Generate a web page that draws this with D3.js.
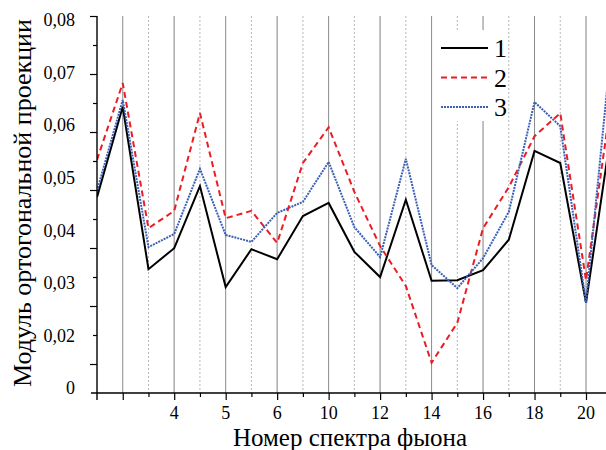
<!DOCTYPE html>
<html>
<head>
<meta charset="utf-8">
<script src="https://cdn.jsdelivr.net/npm/d3@7"></script>
<style>
  body { margin: 0; background: #fff; }
  svg { display: block; }
  svg text { font-family: 'Liberation Serif', 'Times New Roman', serif; }
</style>
</head>
<body>
<div class="chart"></div>
<script>
// spectrum index 0..20 (index 20 lies just past the right edge, clipped)
const series1 = [0.0463, 0.0635, 0.0326, 0.0366, 0.0484, 0.0292, 0.0364, 0.0345, 0.0427, 0.0452,
                 0.0359, 0.0311, 0.0458, 0.0304, 0.0305, 0.0324, 0.0382, 0.0551, 0.0528, 0.0262, 0.0595];
const series2 = [0.0534, 0.0680, 0.0404, 0.0437, 0.0623, 0.0423, 0.0437, 0.0376, 0.0528, 0.0596,
                 0.0473, 0.0370, 0.0294, 0.0148, 0.0224, 0.0404, 0.0482, 0.0579, 0.0623, 0.0305, 0.0655];
const series3 = [0.0475, 0.0648, 0.0368, 0.0393, 0.0517, 0.0391, 0.0378, 0.0433, 0.0454, 0.0530,
                 0.0406, 0.0349, 0.0536, 0.0334, 0.0290, 0.0347, 0.0435, 0.0644, 0.0598, 0.0262, 0.0758];
const seriesNames = ['1', '2', '3'];

const xLabelIdx = [3, 5, 7, 9, 11, 13, 15, 17, 19];
const xLabels = ['4', '5', '6', '10', '12', '14', '16', '18', '20'];
const yLabels = ['0,08', '0,07', '0,06', '0,05', '0,04', '0,03', '0,02', '0'];
const yTickCount = 14;

const W = 606, H = 450;
const plotLeft = 97, plotRight = 606, plotTop = 16, plotBottom = 393;
const serif = 'Liberation Serif';

const svg = d3.select('.chart').append('svg').attr('width', W).attr('height', H)
  .attr('font-family', serif);

const x = d3.scaleLinear().domain([0, 19]).range([97, 586]);
const y = d3.scaleLinear().domain([0.01, 0.08]).range([388, 20]);
const yLab = d3.scalePoint().domain(yLabels).range([20, 388]);
const yTick = d3.scaleLinear().domain([0, yTickCount - 1]).range([plotBottom, plotTop]);

// vertical grid lines
const grid = svg.append('g');
d3.range(1, 20).forEach(i => {
  const odd = i % 2 === 1;
  grid.append('line')
    .attr('x1', x(i)).attr('x2', x(i))
    .attr('y1', plotTop).attr('y2', plotBottom)
    .attr('stroke', odd ? (i % 4 === 1 ? '#8a8a8a' : '#b0b0b0') : '#b8b8b8')
    .attr('stroke-width', odd ? (i % 4 === 1 ? 1 : 1.6) : 1)
    .attr('stroke-dasharray', odd ? null : '2,2');
});

// lines
svg.append('clipPath').attr('id', 'clip')
  .append('rect').attr('x', plotLeft).attr('y', 0).attr('width', plotRight - plotLeft).attr('height', plotBottom);

const line = d3.line().x((d, i) => x(i)).y(d => y(d));
const styles = [
  { data: series1, color: '#000000', dash: null, width: 2 },
  { data: series2, color: '#ec1c24', dash: '6,4', width: 2 },
  { data: series3, color: '#3b5fb5', dash: '2,1', width: 2 }
];
const plot = svg.append('g').attr('clip-path', 'url(#clip)');
styles.forEach(s => {
  plot.append('path')
    .datum(s.data)
    .attr('d', line)
    .attr('fill', 'none')
    .attr('stroke', s.color)
    .attr('stroke-width', s.width)
    .attr('stroke-dasharray', s.dash)
    .attr('stroke-linejoin', 'miter');
});

// legend
const legend = svg.append('g');
legend.append('rect').attr('x', 434).attr('y', 30).attr('width', 72).attr('height', 91).attr('fill', '#fff');
styles.forEach((s, k) => {
  const ly = 48 + k * 29.5;
  legend.append('line')
    .attr('x1', 441).attr('x2', 488).attr('y1', ly).attr('y2', ly)
    .attr('stroke', s.color).attr('stroke-width', 2)
    .attr('stroke-dasharray', s.dash);
  legend.append('text')
    .attr('x', 494).attr('y', ly + 9)
    .attr('font-family', serif)
    .attr('font-size', 26)
    .text(seriesNames[k]);
});

// y axis: tick marks
const yTicksG = svg.append('g').attr('transform', `translate(${plotLeft},0)`)
  .call(d3.axisLeft(yTick).tickValues(d3.range(1, yTickCount)).tickFormat('').tickSizeOuter(0));
yTicksG.select('.domain').remove();
yTicksG.selectAll('.tick line')
  .attr('x2', d => d % 2 === 1 ? -7 : -4)
  .attr('stroke', '#000').attr('stroke-width', 1.2);
svg.append('line').attr('x1', plotLeft).attr('x2', plotLeft).attr('y1', plotTop).attr('y2', plotBottom + 7)
  .attr('stroke', '#000').attr('stroke-width', 1.4);

// y axis: labels
const yLabG = svg.append('g').attr('transform', 'translate(75,0)')
  .call(d3.axisLeft(yLab).tickSize(0).tickPadding(0));
yLabG.attr('font-family', serif);
yLabG.select('.domain').remove();
yLabG.selectAll('text')
  .attr('text-anchor', 'end')
  .attr('font-family', serif)
  .attr('font-size', 18)
  .attr('fill', '#000');

// x axis
const xAxisG = svg.append('g').attr('transform', `translate(0,${plotBottom})`)
  .call(d3.axisBottom(x).tickValues(d3.range(1, 20)).tickFormat('').tickSizeOuter(0));
xAxisG.select('.domain').remove();
xAxisG.selectAll('.tick line')
  .attr('y2', d => d % 2 === 1 ? 7 : 4)
  .attr('stroke', '#000').attr('stroke-width', 1.2);
svg.append('line').attr('x1', plotLeft - 6).attr('x2', plotRight).attr('y1', plotBottom).attr('y2', plotBottom)
  .attr('stroke', '#000').attr('stroke-width', 1.4);

const xLab = svg.append('g');
xLabelIdx.forEach((i, k) => {
  xLab.append('text')
    .attr('x', x(i)).attr('y', 419)
    .attr('text-anchor', 'middle')
    .attr('font-family', serif)
    .attr('font-size', 18)
    .text(xLabels[k]);
});

// titles
svg.append('text')
  .attr('x', 350).attr('y', 446)
  .attr('text-anchor', 'middle')
  .attr('font-family', serif)
  .attr('font-size', 25)
  .text('Номер спектра фыона');

svg.append('text')
  .attr('transform', 'translate(31,203) rotate(-90)')
  .attr('text-anchor', 'middle')
  .attr('font-family', serif)
  .attr('font-size', 26)
  .text('Модуль ортогональной проекции');
</script>
</body>
</html>
